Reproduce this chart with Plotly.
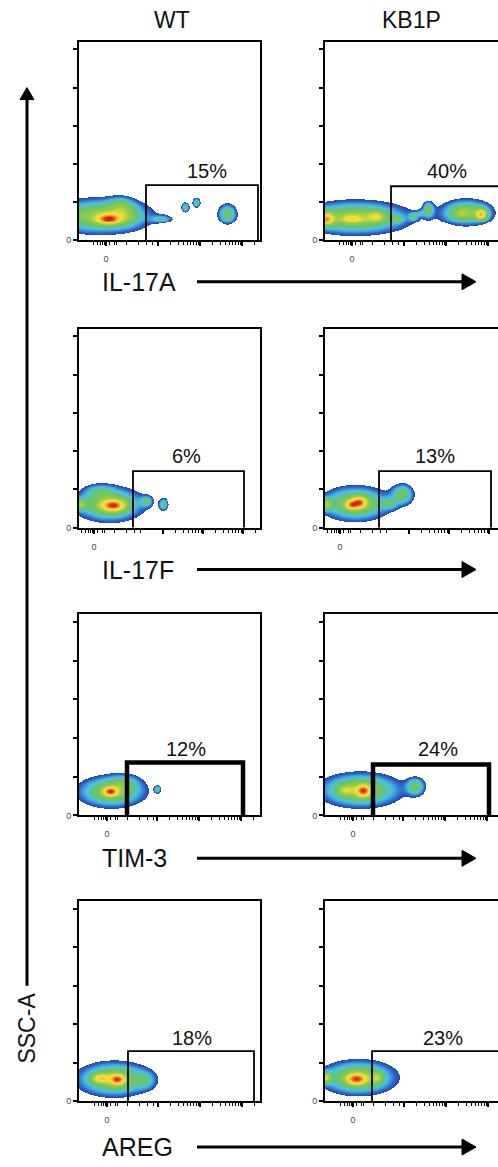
import numpy as np
import plotly.graph_objects as go

W, H = 498, 1167

COLUMNS = ["WT", "KB1P"]
MARKERS = ["IL-17A", "IL-17F", "TIM-3", "AREG"]
PERCENTS = [["15%", "40%"], ["6%", "13%"], ["12%", "24%"], ["18%", "23%"]]

# density populations: (x centre [axis px], y centre [SSC units], x spread, y spread, peak)
POP_IL17A_WT = [(20, 0.62, 30, 0.27, 0.47), (29, 0.55, 8, 0.10, 0.55), (45, 0.70, 10, 0.20, 0.20),
                (40, 0.95, 8, 0.12, 0.15), (82, 0.55, 7, 0.07, 0.20), (106, 0.86, 2.5, 0.08, 0.30),
                (117, 0.98, 2.5, 0.08, 0.30), (148, 0.68, 6, 0.17, 0.35)]
POP_IL17A_KB = [(30, 0.58, 32, 0.26, 0.48), (1, 0.55, 5, 0.12, 0.55), (27, 0.55, 7, 0.08, 0.28),
                (51, 0.62, 6, 0.10, 0.28), (72, 0.55, 4, 0.07, 0.20), (88, 0.62, 3, 0.07, 0.25),
                (95, 0.70, 3, 0.06, 0.15), (103, 0.80, 3.5, 0.13, 0.35), (141, 0.72, 16, 0.21, 0.42),
                (156, 0.68, 4, 0.10, 0.55), (135, 0.72, 6, 0.10, 0.12)]
POP_IL17F_WT = [(30, 0.60, 20, 0.26, 0.47), (34, 0.57, 8, 0.10, 0.55), (0, 0.60, 5, 0.10, 0.35),
                (20, 0.95, 10, 0.12, 0.15), (67, 0.68, 4, 0.09, 0.25), (84, 0.60, 3, 0.10, 0.30)]
POP_IL17F_KB = [(30, 0.62, 20, 0.26, 0.47), (34, 0.65, 5, 0.10, 0.50), (26, 0.58, 4, 0.08, 0.40),
                (1, 0.60, 4, 0.10, 0.35), (77, 0.86, 7, 0.17, 0.35), (64, 0.62, 5, 0.10, 0.20)]
POP_TIM3_WT = [(32, 0.62, 20, 0.24, 0.45), (45, 0.85, 10, 0.15, 0.15), (31, 0.62, 5, 0.08, 0.55),
               (78, 0.68, 2, 0.06, 0.30)]
POP_TIM3_KB = [(35, 0.66, 24, 0.26, 0.47), (38, 0.64, 5, 0.11, 0.53), (20, 0.66, 5, 0.08, 0.25),
               (90, 0.75, 6, 0.15, 0.33)]
POP_AREG_WT = [(35, 0.58, 22, 0.26, 0.47), (38, 0.57, 5, 0.09, 0.53), (21, 0.60, 6, 0.08, 0.40),
               (66, 0.55, 6, 0.14, 0.15)]
POP_AREG_KB = [(33, 0.62, 22, 0.26, 0.47), (31, 0.58, 7, 0.10, 0.53), (0, 0.62, 4, 0.10, 0.45),
               (52, 0.62, 4, 0.10, 0.25)]
POPULATIONS = [[POP_IL17A_WT, POP_IL17A_KB], [POP_IL17F_WT, POP_IL17F_KB],
               [POP_TIM3_WT, POP_TIM3_KB], [POP_AREG_WT, POP_AREG_KB]]

# gates (x in axis px, y in SSC units)
GATE_LEFT = [[67, 66], [54, 54], [48, 48], [49, 47]]
GATE_RIGHT = [[179, 185], [165, 166], [164, 164], [175, 185]]
GATE_TOP = [[1.44, 1.41], [1.48, 1.48], [1.37, 1.32], [1.30, 1.30]]
LABEL_X = [[128, 122], [107, 110], [107, 113], [113, 118]]
LABEL_Y = [[1.80, 1.80], [1.87, 1.87], [1.73, 1.73], [1.64, 1.64]]

# axis ticks
Y_TICKS = [0, 1, 2, 3, 4, 5]
X_ZERO = [27, 15, 28, 28]
X_DECADES = [[79, 121, 163], [84, 124, 164], [78, 120, 162], [79, 121, 163]]
X_MINOR_NEAR_ZERO = [-13, -9, -6, -4, -2, 3, 8]
DECADE_MINOR = [12.6, 20, 25, 29, 32.7, 35.5, 38, 40]

# layout geometry (pixels)
ROW_TOP = [42, 330, 617, 905]
ROW_BOTTOM = [241, 530, 819, 1106]
COL_LEFT = [79, 325]
PANEL_W = 181
Y_MAX = 5.2
GATE_WIDTH = [1.8, 1.8, 4.5, 1.8]
ARROW_Y = [283, 572, 862, 1152]

THR = 0.08
SCALE = [(0.08, '#2846a4'), (0.12, '#2e68cc'), (0.16, '#3a9ee2'), (0.21, '#4cc2dc'),
         (0.27, '#5cc48a'), (0.35, '#72c462'), (0.48, '#9ccc48'), (0.60, '#e0dc3a'),
         (0.72, '#f5e13a'), (0.84, '#f39a28'), (0.93, '#ea4a20'), (1.00, '#d81e1a')]
colorscale = [[(z - THR) / (1 - THR), c] for z, c in SCALE]

FONT = "Liberation Sans, Arial, sans-serif"


def px(x):
    return x / W


def py(y):
    return 1 - y / H


gx = np.arange(0, PANEL_W + 1, 1.0)
gy = np.linspace(0, Y_MAX, 201)
GX, GY = np.meshgrid(gx, gy)

fig = go.Figure()
shapes = []
annotations = []

for r in range(4):
    for c in range(2):
        k = r * 2 + c + 1
        xs = "" if k == 1 else str(k)
        D = np.zeros_like(GX)
        for cx, cy, sx, sy, w in POPULATIONS[r][c]:
            D += w * np.exp(-0.5 * ((GX - cx) / sx) ** 2 - 0.5 * ((GY - cy) / sy) ** 2)
        Z = np.where(D < THR, np.nan, np.minimum(D, 1.0))
        Z = np.round(Z, 3)
        fig.add_trace(go.Heatmap(x=gx, y=gy, z=Z, colorscale=colorscale, zmin=THR, zmax=1.0,
                                 showscale=False, hoverinfo="skip",
                                 xaxis="x" + xs, yaxis="y" + xs))
        x0 = COL_LEFT[c]
        x1 = min(x0 + PANEL_W, W)
        xr = x1 - x0
        zero = X_ZERO[r]
        majors = [zero] + X_DECADES[r]
        minors = [zero + d for d in X_MINOR_NEAR_ZERO] + [zero + 10, zero + 20, zero + 32, zero + 40, zero + 46]
        for d0 in X_DECADES[r]:
            minors += [d0 + m for m in DECADE_MINOR]
        minors = [m for m in minors if 0 < m < xr and m not in majors]
        fig.update_layout(**{
            "xaxis" + xs: dict(domain=[px(x0), px(x1)], range=[0, xr], anchor="y" + xs,
                               showline=True, linewidth=2, linecolor="black", mirror=True,
                               showgrid=False, zeroline=False, ticks="outside", ticklen=4,
                               tickwidth=1.5, tickcolor="black", tickmode="array",
                               tickvals=majors, ticktext=["0", "", "", ""],
                               tickfont=dict(size=9, color="#444", family=FONT),
                               ticklabelstandoff=5,
                               minor=dict(tickmode="array", tickvals=minors, ticks="outside",
                                          ticklen=3, tickwidth=1.2, tickcolor="black")),
            "yaxis" + xs: dict(domain=[py(ROW_BOTTOM[r]), py(ROW_TOP[r])], range=[0, Y_MAX],
                               anchor="x" + xs, showline=True, linewidth=2, linecolor="black",
                               mirror=(c == 0), showgrid=False, zeroline=False, ticks="outside",
                               ticklen=4, tickwidth=1.5, tickcolor="black", tickmode="array",
                               tickvals=Y_TICKS, ticktext=["0", "", "", "", "", ""],
                               tickfont=dict(size=9, color="#444", family=FONT)),
        })
        gl, gr, gt = GATE_LEFT[r][c], GATE_RIGHT[r][c], GATE_TOP[r][c]
        shapes.append(dict(type="path", xref="x" + xs, yref="y" + xs,
                           path=f"M {gl},0 L {gl},{gt} L {gr},{gt} L {gr},0",
                           line=dict(color="black", width=GATE_WIDTH[r])))
        annotations.append(dict(text=PERCENTS[r][c], x=LABEL_X[r][c], y=LABEL_Y[r][c],
                                xref="x" + xs, yref="y" + xs, showarrow=False,
                                xanchor="center", yanchor="middle",
                                font=dict(size=20, color="#111", family=FONT)))

# column headers
for c, name in enumerate(COLUMNS):
    annotations.append(dict(text=name, x=px([172, 411][c]), y=py(20), xref="paper", yref="paper",
                            showarrow=False, xanchor="center", yanchor="middle",
                            font=dict(size=23, color="#111", family=FONT)))

# marker labels and arrows
for r, m in enumerate(MARKERS):
    yy = ARROW_Y[r]
    annotations.append(dict(text=m, x=px(100), y=py(yy), xref="paper", yref="paper",
                            showarrow=False, xanchor="left", yanchor="middle",
                            font=dict(size=25, color="#111", family=FONT)))
    shapes.append(dict(type="line", xref="paper", yref="paper", x0=px(197), x1=px(465),
                       y0=py(yy), y1=py(yy), line=dict(color="black", width=3)))
    shapes.append(dict(type="path", xref="paper", yref="paper",
                       path=f"M {px(462)},{py(yy - 8)} L {px(476)},{py(yy)} L {px(462)},{py(yy + 8)} Z",
                       fillcolor="black", line=dict(color="black", width=1)))

# SSC-A vertical arrow
shapes.append(dict(type="line", xref="paper", yref="paper", x0=px(27), x1=px(27),
                   y0=py(990), y1=py(98), line=dict(color="black", width=3)))
shapes.append(dict(type="path", xref="paper", yref="paper",
                   path=f"M {px(20)},{py(100)} L {px(27)},{py(88)} L {px(34)},{py(100)} Z",
                   fillcolor="black", line=dict(color="black", width=1)))
annotations.append(dict(text="SSC-A", x=px(27), y=py(1033), xref="paper", yref="paper",
                        showarrow=False, textangle=-90, xanchor="center", yanchor="middle",
                        font=dict(size=23, color="#111", family=FONT)))

fig.update_layout(width=W, height=H, margin=dict(l=0, r=0, t=0, b=0),
                  paper_bgcolor="white", plot_bgcolor="white", showlegend=False,
                  shapes=shapes, annotations=annotations)

fig.write_html("out.html", config={"displayModeBar": False},
               post_script="document.body.style.margin='0';document.body.style.overflow='hidden';")
